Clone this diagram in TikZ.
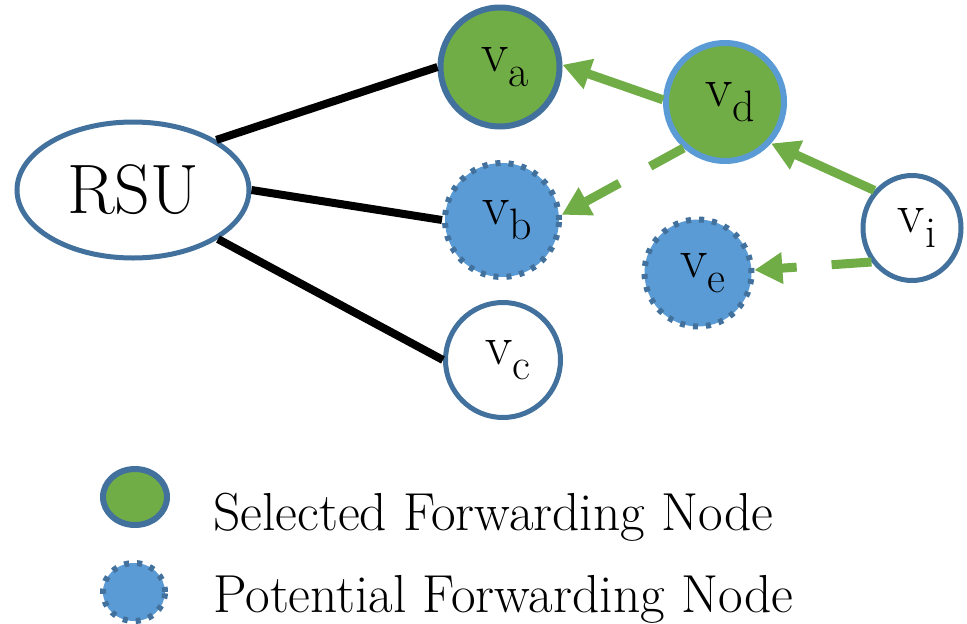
\documentclass[tikz,border=0pt]{standalone}
\usetikzlibrary{arrows.meta,shapes.geometric}
\definecolor{sgreen}{HTML}{70AD47}
\definecolor{pblue}{HTML}{5B9BD5}
\definecolor{dblue}{HTML}{41719C}
\newcommand{\vlab}[1]{\hspace*{10pt}v\raisebox{-15pt}{\fontsize{44}{48}\selectfont #1}}
\begin{document}
\begin{tikzpicture}[x=1pt,y=-1pt,
  vnode/.style={circle,inner sep=0pt,font=\fontsize{56}{60}\selectfont},
  selnode/.style={vnode,fill=sgreen,draw=dblue,line width=6pt},
  potnode/.style={vnode,fill=pblue,draw=dblue,line width=6pt,dash pattern=on 5pt off 8pt},
  plainnode/.style={vnode,fill=white,draw=dblue,line width=5pt},
  blk/.style={line width=8pt,black},
  garrow/.style={line width=9pt,sgreen,-{Triangle[width=30pt,length=28pt]}},
  legtext/.style={anchor=base west,inner sep=0pt,font=\fontsize{53.5}{60}\selectfont}]
\useasboundingbox (0,0) rectangle (967,624);
% nodes
\node[plainnode,ellipse,minimum width=232pt,minimum height=136pt,font=\fontsize{70}{76}\selectfont] (rsu) at (133,190) {\raisebox{-6pt}{RSU}};
\node[selnode,minimum size=119pt] (va) at (500,67) {\raisebox{-3pt}{\vlab{a}}};
\node[selnode,draw=pblue,minimum size=118pt] (vd) at (725,102) {\raisebox{-3pt}{\vlab{d}}};
\node[potnode,minimum size=114pt] (vb) at (502,220) {\raisebox{-3pt}{\vlab{b}}};
\node[potnode,minimum size=107pt] (ve) at (698,273) {\raisebox{-3pt}{\vlab{e}}};
\node[plainnode,minimum size=115pt] (vc) at (503,360) {\raisebox{-3pt}{\vlab{c}}};
\node[plainnode,ellipse,minimum width=98pt,minimum height=105pt] (vi) at (912,228) {\raisebox{-3pt}{\vlab{i}}};
% connectors
\draw[blk] (rsu.31) -- (va.west);
\draw[blk] (rsu.east) -- (vb.west);
\draw[blk] (rsu.-30) -- (vc.west);
\draw[garrow] (vd.178) -- (va.2);
\draw[garrow] (vi.135) -- (vd.-42);
\draw[garrow,dash pattern=on 38pt off 35pt] (vd.228) -- (vb.5);
\draw[garrow,dash pattern=on 40pt off 35pt] (vi.220) -- (ve.3);
% legend
\node[selnode,ellipse,minimum width=64pt,minimum height=56pt] (lg1) at (135,497) {};
\node[potnode,ellipse,minimum width=62pt,minimum height=58pt] (lg2) at (134,592) {};
\node[legtext] (lt1) at (213,530) {Selected Forwarding Node};
\node[legtext] (lt2) at (213,612) {Potential Forwarding Node};
\end{tikzpicture}
\end{document}
